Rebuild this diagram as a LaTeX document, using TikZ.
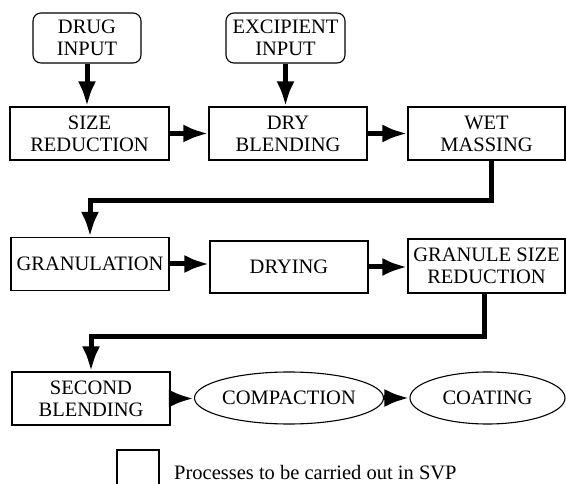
\documentclass[tikz,border=0pt]{standalone}
\usepackage{fontspec}
\setmainfont{Liberation Serif}
\usetikzlibrary{shapes.geometric,arrows.meta,calc}
\begin{document}
\begin{tikzpicture}[x=1pt,y=-1pt,
  lbl/.style={font=\fontsize{20.5}{22}\selectfont, align=center, inner sep=0pt},
  procbox/.style={lbl, draw, line width=1.1pt, rectangle},
  inbox/.style={procbox, rounded corners=8pt},
  ovalbox/.style={lbl, draw, line width=1.1pt, ellipse},
  flow/.style={line width=5pt, -{Latex[length=25pt,width=18pt]}},
  elbow/.style={line width=5pt, -{Latex[length=25pt,width=18pt]}, rounded corners=0pt}]
\useasboundingbox (0,0) rectangle (566,484);
\node[inbox, minimum width=108pt, minimum height=50pt] (drug) at (87,38) {DRUG\\INPUT};
\node[inbox, minimum width=119pt, minimum height=50pt] (excip) at (285.5,38) {EXCIPIENT\\INPUT};
\node[procbox, minimum width=159pt, minimum height=53pt] (size) at (89.5,133.5) {SIZE\\REDUCTION};
\node[procbox, minimum width=158pt, minimum height=53pt] (dry) at (288,133.5) {DRY\\BLENDING};
\node[procbox, minimum width=157pt, minimum height=53pt] (wet) at (486.5,133.5) {WET\\MASSING};
\node[procbox, minimum width=158pt, minimum height=53pt] (gran) at (90,264) {GRANULATION};
\node[procbox, minimum width=158pt, minimum height=52pt] (drying) at (289,267) {DRYING};
\node[procbox, minimum width=157pt, minimum height=54pt] (gsr) at (486.5,266) {GRANULE SIZE\\REDUCTION};
\node[procbox, minimum width=158pt, minimum height=53pt] (sb) at (91,398.5) {SECOND\\BLENDING};
\node[ovalbox, minimum width=158pt, minimum height=52pt] (comp) at (289,398) {COMPACTION};
\node[ovalbox, minimum width=155pt, minimum height=52pt] (coat) at (487.5,398) {COATING};
\coordinate (t1) at (90,201);
\coordinate (t2) at (91,337);
\draw[flow] (drug.south) -- (drug.south |- size.north);
\draw[flow] (excip.south) -- (excip.south |- dry.north);
\draw[flow] (size.east) -- (dry.west);
\draw[flow] (dry.east) -- (wet.west);
\draw[elbow] ([xshift=5pt]wet.south) |- (t1) -- (gran.north);
\draw[flow] (gran.east) -- (gran.east -| drying.west);
\draw[flow] (drying.east) -- (drying.east -| gsr.west);
\draw[elbow] ([xshift=-2.5pt]gsr.south) |- (t2) -- (sb.north);
\draw[flow] (sb.east) -- (sb.east -| comp.west);
\draw[flow] (comp.east) -- (coat.west);
\coordinate (lgA) at (117,484);
\coordinate (lgB) at (159,484);
\draw[line width=1.1pt] (lgA) -- (117,450) -- (159,450) -- (lgB);
\node[lbl, anchor=base west] (legtext) at (174,479) {Processes to be carried out in SVP};
\end{tikzpicture}
\end{document}
